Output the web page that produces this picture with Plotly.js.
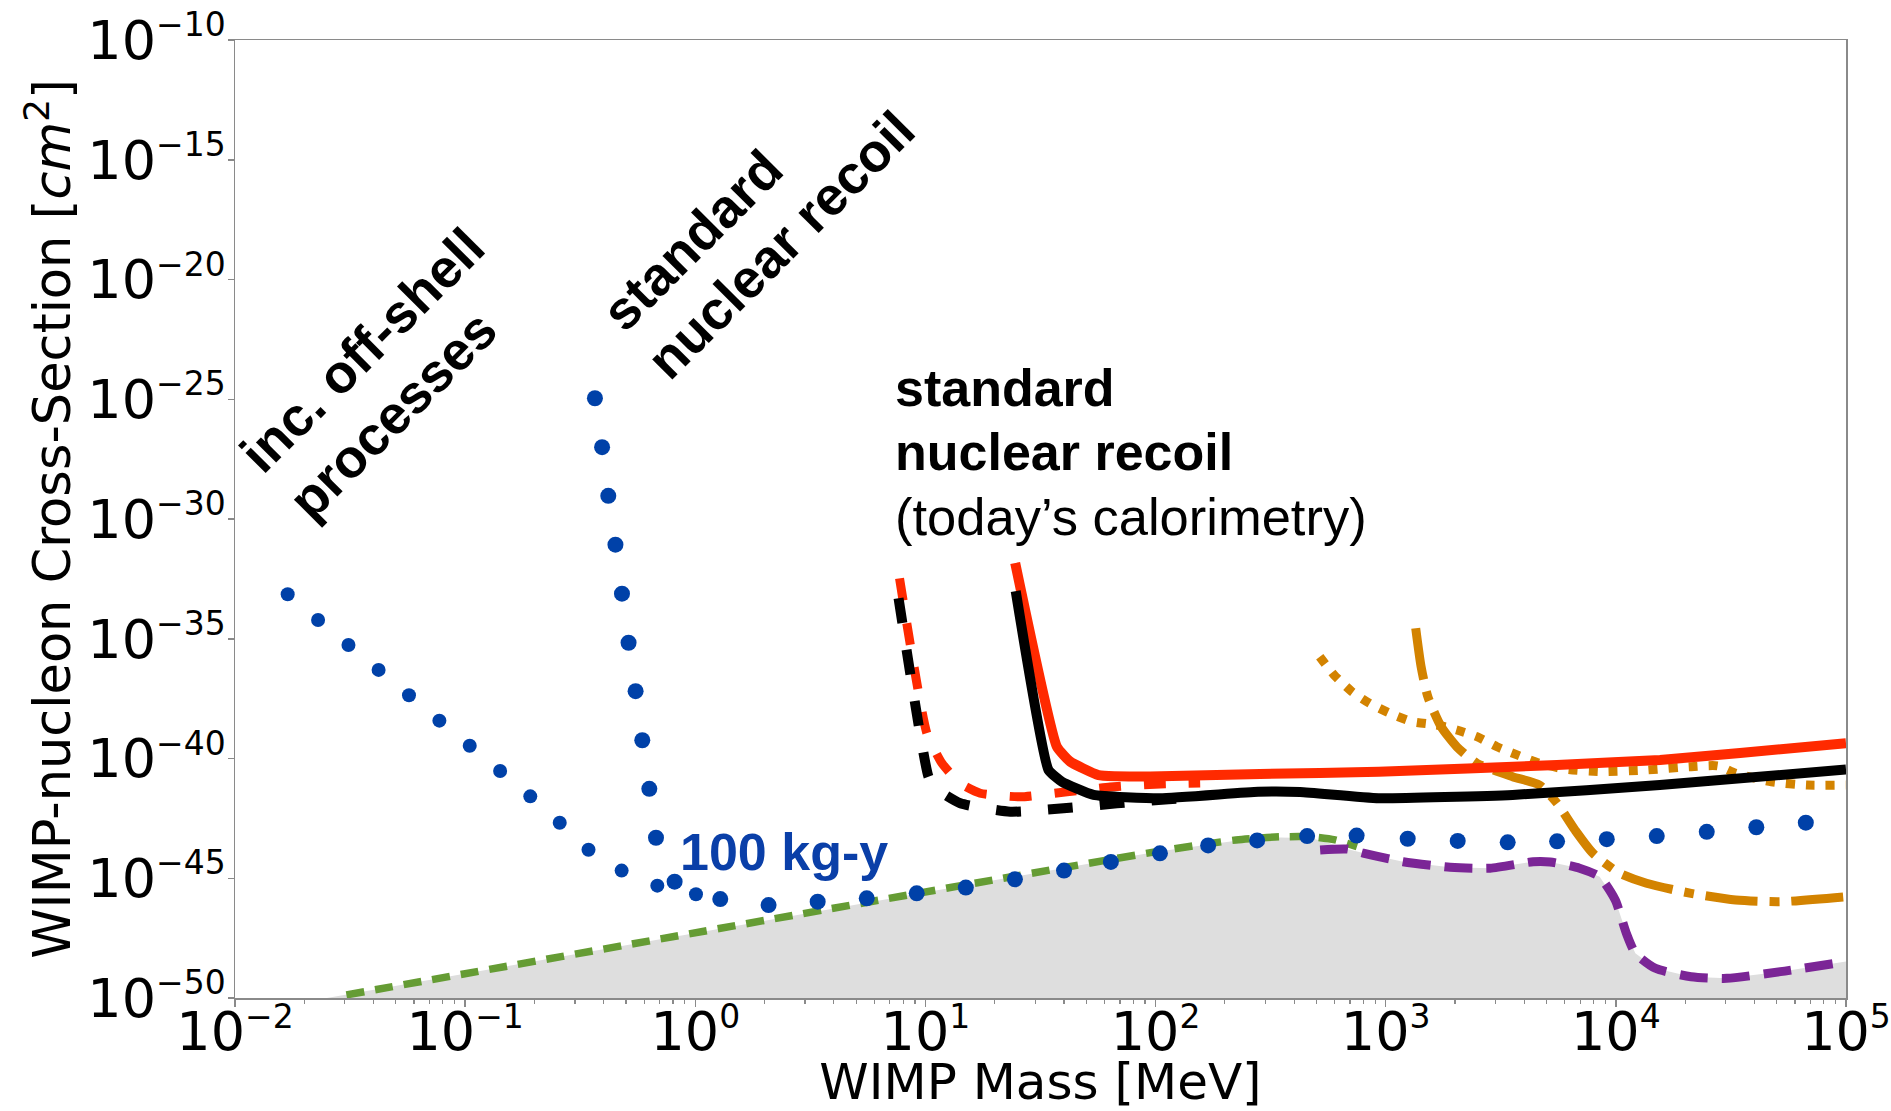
<!DOCTYPE html>
<html>
<head>
<meta charset="utf-8">
<script src="https://cdn.plot.ly/plotly-3.0.1.min.js"></script>
<style>html,body{margin:0;padding:0;background:#fff;}#chart{width:1891px;height:1111px;}</style>
</head>
<body>
<div id="chart"></div>
<script>
// ---------- data (WIMP mass in MeV, cross-section in cm^2) ----------
// grey region (upper boundary)
const floorMass  = [0.0251, 100.9, 223.4, 347.5, 477.5, 575.4, 679.2, 798.0, 1190, 1905, 2841, 4369, 5178, 6956, 8506, 9940, 11108, 12151, 14859, 21217, 30353, 51880, 100000];
const floorSigma = [1.0e-50, 1.29e-44, 3.72e-44, 5.01e-44, 4.68e-44, 2.82e-44, 1.66e-44, 1.12e-44, 4.90e-45, 2.88e-45, 2.63e-45, 4.90e-45, 4.79e-45, 2.63e-45, 1.15e-45, 1.23e-46, 5.01e-48, 7.41e-49, 1.74e-49, 7.76e-50, 6.61e-50, 1.26e-49, 3.31e-49];

// green dashed line
const greenMass  = [0.03048, 100.9, 223.4, 347.5, 477.5, 602.6, 749.9];
const greenSigma = [1.35e-50, 1.29e-44, 3.98e-44, 5.37e-44, 5.37e-44, 3.98e-44, 2.09e-44];

// purple dashed line
const purpleMass  = [518.8, 679.6, 797.9, 1190, 1905, 2841, 4369, 5178, 6956, 8506, 9940, 11108, 12151, 14859, 21217, 30353, 51880, 100000];
const purpleSigma = [1.51e-44, 1.66e-44, 1.12e-44, 4.90e-45, 2.88e-45, 2.63e-45, 4.90e-45, 4.79e-45, 2.63e-45, 1.15e-45, 1.23e-46, 5.01e-48, 7.41e-49, 1.74e-49, 7.76e-50, 6.61e-50, 1.26e-49, 3.31e-49];

// blue dotted: 100 kg-y, including off-shell processes
const offShellMass  = [0.01694, 0.02296, 0.03112, 0.04207, 0.05702, 0.07727, 0.1047, 0.1419, 0.1919, 0.2576, 0.3436, 0.4786, 0.6839, 1.007];
const offShellSigma = [7.24e-34, 6.03e-35, 5.50e-36, 5.01e-37, 4.37e-38, 3.80e-39, 3.39e-40, 3.02e-41, 2.63e-42, 2.09e-43, 1.55e-44, 2.09e-45, 4.90e-46, 2.14e-46];

// blue dotted: 100 kg-y, standard nuclear recoil
const stdNRMass  = [0.3664, 0.3936, 0.4188, 0.4499, 0.4802, 0.5130, 0.5504, 0.5885, 0.6313, 0.6749, 0.8131, 1.284, 2.082, 3.402, 5.559, 9.166, 14.98, 24.48, 40.01, 63.94, 104.5, 169.2, 276.3, 455.6, 747.4, 1246, 2055, 3388, 5554, 9131, 15055, 24826, 40772, 66898];
const stdNRSigma = [1.10e-25, 1.0e-27, 9.3e-30, 8.5e-32, 7.6e-34, 6.8e-36, 6.5e-38, 5.8e-40, 5.4e-42, 4.9e-44, 7.2e-46, 1.35e-46, 7.6e-47, 1.05e-46, 1.45e-46, 2.34e-46, 4.07e-46, 9.1e-46, 2.09e-45, 4.79e-45, 1.10e-44, 2.34e-44, 3.80e-44, 5.75e-44, 6.03e-44, 4.47e-44, 3.63e-44, 3.16e-44, 3.47e-44, 4.27e-44, 5.75e-44, 8.7e-44, 1.35e-43, 2.09e-43];

// today's calorimetry, standard nuclear recoil
const redDashMass   = [7.718, 10.15, 11.80, 14.17, 17.30, 25.81, 41.19, 63.52, 104.7, 156.2];
const redDashSigma  = [3.31e-33, 1.12e-39, 6.31e-41, 9.12e-42, 3.55e-42, 2.51e-42, 4.07e-42, 6.46e-42, 8.71e-42, 9.55e-42];
const blackDashMass  = [7.642, 10.31, 11.03, 14.17, 23.36, 39.81, 67.90, 113.8, 156.2];
const blackDashSigma = [4.90e-34, 1.74e-41, 5.89e-42, 1.35e-42, 6.03e-43, 8.32e-43, 1.35e-42, 2.00e-42, 2.45e-42];
const redMass   = [24.55, 37.26, 42.56, 56.49, 94.76, 284.7, 932.3, 5554, 15560, 34640, 100000];
const redSigma  = [1.45e-32, 3.09e-40, 7.41e-41, 2.04e-41, 1.78e-41, 2.24e-41, 2.82e-41, 5.37e-41, 8.71e-41, 1.70e-40, 4.37e-40];
const blackMass  = [24.68, 34.26, 39.17, 53.75, 104.7, 279.1, 424.6, 932.3, 3558, 15530, 100000];
const blackSigma = [9.77e-34, 3.31e-41, 1.07e-41, 3.02e-42, 2.19e-42, 4.07e-42, 3.98e-42, 2.19e-42, 3.02e-42, 7.76e-42, 3.47e-41];

// orange curves
const orangeDotMass  = [516.8, 596.4, 713.2, 852.1, 1042, 1302, 1666, 2037, 2490, 3045, 3723, 4653, 6077, 8694, 13585, 21217, 27770, 33180, 47430, 67700, 100000];
const orangeDotSigma = [1.78e-36, 3.09e-37, 6.17e-38, 2.00e-38, 7.76e-39, 3.47e-39, 2.51e-39, 1.55e-39, 8.13e-40, 3.09e-40, 1.41e-40, 6.31e-41, 3.55e-41, 2.82e-41, 3.31e-41, 4.57e-41, 4.90e-41, 2.40e-41, 1.07e-41, 7.76e-42, 7.76e-42];
const orangeDDMass  = [1350, 1425, 1524, 1741, 2037, 2490, 3558, 4653, 5554, 6650, 7955, 10387, 13585, 21217, 33180, 51680, 100000];
const orangeDDSigma = [2.75e-35, 6.76e-37, 3.80e-38, 2.14e-39, 3.09e-40, 6.31e-41, 1.74e-41, 7.76e-42, 1.35e-42, 1.02e-43, 1.10e-44, 1.62e-45, 6.17e-46, 2.34e-46, 1.23e-46, 1.05e-46, 1.70e-46];

// axis ticks
const SUP = s => '10<sup><span style="font-size:33px">' + s + '</span></sup>';
const xTickVals  = [1e-2, 1e-1, 1e0, 1e1, 1e2, 1e3, 1e4, 1e5];
const xTickExp   = ['\u22122', '\u22121', '0', '1', '2', '3', '4', '5'];
const yTickVals  = [1e-50, 1e-45, 1e-40, 1e-35, 1e-30, 1e-25, 1e-20, 1e-15, 1e-10];
const yTickExp   = ['\u221250', '\u221245', '\u221240', '\u221235', '\u221230', '\u221225', '\u221220', '\u221215', '\u221210'];
const xTickText = xTickExp.map(SUP);
const yTickText = yTickExp.map(SUP);

// minor tick positions on the x axis (2..9 x each decade)
const xMinor = [];
for (let k = -2; k < 5; k++) for (let j = 2; j <= 9; j++) xMinor.push(j * Math.pow(10, k));

// ---------- styling ----------
const BLUE = '#0041a8', RED = '#ff2a00', ORANGE = '#d38300', PURPLE = '#7b2596', GREEN = '#659c34';
const AX = '#8a8a8a';

const traces = [
  {x: floorMass, y: floorSigma, mode: 'lines', fill: 'tozeroy', fillcolor: '#dedede', line: {width: 0, color: '#dedede'}, hoverinfo: 'skip'},
  {x: greenMass, y: greenSigma, mode: 'lines', line: {color: GREEN, width: 7.5, dash: '18px,11px', shape: 'spline', smoothing: 0.6}},
  {x: purpleMass, y: purpleSigma, mode: 'lines', line: {color: PURPLE, width: 9, dash: '28px,14px', shape: 'spline', smoothing: 0.6}},
  {x: offShellMass, y: offShellSigma, mode: 'markers', marker: {color: BLUE, size: 14}},
  {x: stdNRMass, y: stdNRSigma, mode: 'markers', marker: {color: BLUE, size: 16}},
  {x: orangeDotMass, y: orangeDotSigma, mode: 'lines', line: {color: ORANGE, width: 9, dash: '9px,11px', shape: 'spline', smoothing: 0.6}},
  {x: orangeDDMass, y: orangeDDSigma, mode: 'lines', line: {color: ORANGE, width: 9, dash: '52px,12px,10px,12px', shape: 'spline', smoothing: 0.6}},
  {x: redDashMass, y: redDashSigma, mode: 'lines', line: {color: RED, width: 9, dash: '22px,23px', shape: 'spline', smoothing: 0.5}},
  {x: blackDashMass, y: blackDashSigma, mode: 'lines', line: {color: '#000', width: 10, dash: '25px,27px', shape: 'spline', smoothing: 0.5}},
  {x: redMass, y: redSigma, mode: 'lines', line: {color: RED, width: 10, shape: 'spline', smoothing: 0.4}},
  {x: blackMass, y: blackSigma, mode: 'lines', line: {color: '#000', width: 10, shape: 'spline', smoothing: 0.4}}
];

const L = 235, R = 45, T = 40, B = 113;
const W = 1891, H = 1111;
const PW = W - L - R, PH = H - T - B;
const px = v => (v - L) / PW;          // page px -> paper x
const py = v => (H - B - v) / PH;      // page px -> paper y

const annFontB = {family: 'Liberation Sans, Arial, sans-serif', size: 54, color: '#000'};
const annFontH = {family: 'Liberation Sans, Arial, sans-serif', size: 52, color: '#000'};
const annotations = [
  {xref: 'paper', yref: 'paper', x: px(362), y: py(350), text: '<b>inc. off-shell</b>', textangle: -45, showarrow: false, xanchor: 'center', yanchor: 'middle', font: annFontB},
  {xref: 'paper', yref: 'paper', x: px(392), y: py(415), text: '<b>processes</b>', textangle: -45, showarrow: false, xanchor: 'center', yanchor: 'middle', font: annFontB},
  {xref: 'paper', yref: 'paper', x: px(692), y: py(240), text: '<b>standard</b>', textangle: -45, showarrow: false, xanchor: 'center', yanchor: 'middle', font: annFontB},
  {xref: 'paper', yref: 'paper', x: px(780), y: py(245), text: '<b>nuclear recoil</b>', textangle: -45, showarrow: false, xanchor: 'center', yanchor: 'middle', font: annFontB},
  {xref: 'paper', yref: 'paper', x: px(893), y: py(388), text: '<b>standard</b>', showarrow: false, xanchor: 'left', yanchor: 'middle', font: annFontH},
  {xref: 'paper', yref: 'paper', x: px(893), y: py(452), text: '<b>nuclear recoil</b>', showarrow: false, xanchor: 'left', yanchor: 'middle', font: annFontH},
  {xref: 'paper', yref: 'paper', x: px(893), y: py(516), text: '(today\u2019s calorimetry)', showarrow: false, xanchor: 'left', yanchor: 'middle', font: {family: 'Liberation Sans, Arial, sans-serif', size: 52.5, color: '#000'}},
  {xref: 'paper', yref: 'paper', x: px(784), y: py(852), text: '<b>100 kg-y</b>', showarrow: false, xanchor: 'center', yanchor: 'middle', font: {family: 'Liberation Sans, Arial, sans-serif', size: 52, color: '#0a3fa8'}}
];

const tickFont = {family: 'DejaVu Sans, sans-serif', size: 54, color: '#000'};

const layout = {
  width: W, height: H,
  margin: {l: L, r: R, t: T, b: B, pad: 0},
  paper_bgcolor: '#fff', plot_bgcolor: '#fff',
  showlegend: false,
  xaxis: {
    type: 'log', range: [-2, 5], autorange: false,
    tickmode: 'array', tickvals: xTickVals, ticktext: xTickText,
    ticks: 'outside', ticklen: 7, tickwidth: 1.5, tickcolor: AX,
    ticklabelstandoff: -21,
    showline: true, linecolor: AX, linewidth: 1.5, mirror: true,
    showgrid: false, zeroline: false, tickfont: tickFont,
    minor: {tickmode: 'array', tickvals: xMinor, ticks: 'outside', ticklen: 4, tickwidth: 1.2, tickcolor: AX, showgrid: false},
    title: {text: 'WIMP Mass [MeV]', font: {family: 'DejaVu Sans, sans-serif', size: 50, color: '#000'}, standoff: 24},
    automargin: false
  },
  yaxis: {
    type: 'log', range: [-50, -10], autorange: false,
    tickmode: 'array', tickvals: yTickVals, ticktext: yTickText,
    ticks: 'outside', ticklen: 6, tickwidth: 1.5, tickcolor: AX,
    ticklabelstandoff: -9,
    showline: true, linecolor: AX, linewidth: 1.5, mirror: true,
    showgrid: false, zeroline: false, tickfont: tickFont,
    title: {text: 'WIMP-nucleon Cross-Section [<i>cm</i><sup>2</sup>]', font: {family: 'DejaVu Sans, sans-serif', size: 51, color: '#000'}, standoff: 0},
    automargin: false
  },
  annotations: annotations
};

Plotly.newPlot('chart', traces, layout, {displayModeBar: false, staticPlot: true});
</script>
</body>
</html>
